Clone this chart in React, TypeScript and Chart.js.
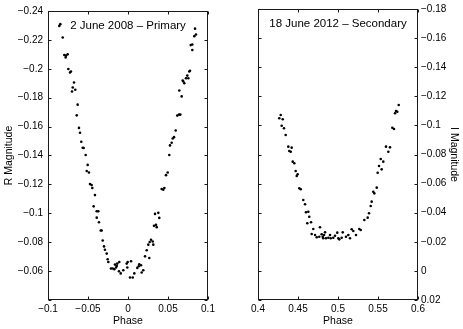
import React, { useEffect, useRef } from "react";
import { Chart, registerables } from "chart.js";

Chart.register(...registerables);

// ---- Data: 2 June 2008, primary eclipse (R band) ----
const primaryPhase = [
  -0.0859, -0.0846, -0.0816, -0.0796, -0.0775, -0.0754, -0.0779, -0.0746, -0.0725, -0.0713,
  -0.0675, -0.0691, -0.0659, -0.07, -0.0629, -0.0641, -0.0613, -0.06, -0.0584, -0.0566,
  -0.0554, -0.0529, -0.0504, -0.0516, -0.0488, -0.0475, -0.0454, -0.0446, -0.0413, -0.0429,
  -0.0391, -0.0371, -0.0391, -0.0363, -0.0341, -0.0329, -0.0316, -0.03, -0.0288, -0.0266,
  -0.0254, -0.0246, -0.0213, -0.0191, -0.0171, -0.0163, -0.0141, -0.015, -0.0134, -0.0109,
  -0.0113, -0.0091, -0.0059, -0.0016, -0.0009, -0.0004, 0.0038, 0.0025, 0.0059, 0.0079,
  0.0116, 0.0134, 0.0141, 0.0163, 0.0171, 0.0191, 0.0213, 0.0266, 0.0234, 0.0254,
  0.0271, 0.0288, 0.0309, 0.0316, 0.0325, 0.0359, 0.035, 0.0338, 0.0379, 0.0391,
  0.0421, 0.0441, 0.0454, 0.0475, 0.0496, 0.0516, 0.0525, 0.0546, 0.0559, 0.0575,
  0.0596, 0.0616, 0.0638, 0.0654, 0.0671, 0.0641, 0.0691, 0.0684, 0.0704, 0.0725,
  0.0741, 0.0754, 0.0766, 0.0775, 0.0784, 0.0804, 0.0804, 0.0829, 0.085, 0.0838,
];
const primaryMag = [
  -0.2297, -0.2309, -0.2217, -0.2096, -0.2091, -0.21, -0.2079, -0.1999, -0.1974, -0.1981,
  -0.1905, -0.1871, -0.1855, -0.1843, -0.1752, -0.1678, -0.1591, -0.1557, -0.1495, -0.1454,
  -0.1452, -0.1403, -0.1335, -0.1293, -0.1282, -0.1202, -0.1195, -0.1175, -0.1126, -0.1048,
  -0.1014, -0.1014, -0.097, -0.0938, -0.0881, -0.0881, -0.0812, -0.0771, -0.0748, -0.0721,
  -0.0682, -0.0663, -0.0618, -0.0618, -0.0613, -0.0645, -0.0636, -0.0625, -0.0652, -0.0663,
  -0.0599, -0.0584, -0.0606, -0.0652, -0.0625, -0.0663, -0.0668, -0.0556, -0.0556, -0.0584,
  -0.0622, -0.0634, -0.0647, -0.0641, -0.059, -0.0606, -0.0702, -0.0691, -0.0744, -0.0783,
  -0.0801, -0.0817, -0.0805, -0.0783, -0.0913, -0.0904, -0.092, -0.0996, -0.1003, -0.0968,
  -0.1168, -0.1163, -0.1175, -0.1264, -0.1282, -0.1403, -0.147, -0.1488, -0.1518, -0.1527,
  -0.1573, -0.1676, -0.1683, -0.1683, -0.1809, -0.185, -0.1912, -0.1919, -0.19, -0.1935,
  -0.1953, -0.1935, -0.1981, -0.1986, -0.2164, -0.213, -0.2168, -0.2226, -0.2237, -0.2278,
];

// ---- Data: 18 June 2012, secondary eclipse (I band) ----
const secondaryPhase = [
  0.4284, 0.4266, 0.4309, 0.4296, 0.4325, 0.4346, 0.4379, 0.4421, 0.4391, 0.4409,
  0.4434, 0.4454, 0.4471, 0.4496, 0.4484, 0.4516, 0.4534,
  0.4566, 0.4588, 0.46, 0.4629, 0.4641, 0.4616, 0.4663, 0.4691, 0.4671, 0.4713,
  0.4775, 0.4734, 0.4766, 0.4796, 0.4809, 0.4825, 0.4816, 0.485, 0.4838, 0.4879,
  0.49, 0.4909, 0.4941, 0.4963, 0.4991, 0.5004, 0.5016, 0.5046, 0.5059, 0.51,
  0.5129, 0.515, 0.5171, 0.5191, 0.5225, 0.5266, 0.5284,
  0.5329, 0.5371, 0.5388, 0.5409, 0.5421, 0.5441, 0.5454, 0.5484, 0.5496, 0.5513,
  0.5546, 0.5534, 0.5566, 0.56, 0.565, 0.5629, 0.5679, 0.57, 0.5713, 0.5725,
  0.5741, 0.5759,
];
const secondaryMag = [
  -0.1071, -0.1049, -0.1042, -0.0998, -0.098, -0.0934, -0.0854, -0.0847, -0.0824, -0.0819,
  -0.0751, -0.074, -0.0687, -0.0664, -0.0652, -0.0568, -0.0561,
  -0.0487, -0.0458, -0.0403, -0.0407, -0.0372, -0.0327, -0.0334, -0.0288, -0.0254, -0.0247,
  -0.03, -0.0231, -0.0235, -0.0252, -0.0235, -0.0247, -0.0224, -0.0224, -0.0265, -0.0228,
  -0.0247, -0.0224, -0.0228, -0.0242, -0.0263, -0.0224, -0.0217, -0.0228, -0.0265, -0.0235,
  -0.0247, -0.0224, -0.0286, -0.0274, -0.0247, -0.0288, -0.0281,
  -0.035, -0.0366, -0.0396, -0.0446, -0.0476, -0.0544, -0.0533, -0.0572, -0.0675, -0.0721,
  -0.0698, -0.0769, -0.0751, -0.0854, -0.0849, -0.0819, -0.0984, -0.0975, -0.1083, -0.1099,
  -0.1094, -0.114,
];

// ---- Ticks and labels ----
const primaryXTicks = [-0.1, -0.05, 0, 0.05, 0.1];
const primaryYTicks = [-0.24, -0.22, -0.2, -0.18, -0.16, -0.14, -0.12, -0.1, -0.08, -0.06, -0.04];
const primaryYHiddenLabels = [-0.04];
const secondaryXTicks = [0.4, 0.45, 0.5, 0.55, 0.6];
const secondaryYTicks = [-0.18, -0.16, -0.14, -0.12, -0.1, -0.08, -0.06, -0.04, -0.02, 0, 0.02];
const secondaryYHiddenLabels: number[] = [];

const primaryTitle = "2 June 2008 \u2013 Primary";
const secondaryTitle = "18 June 2012 \u2013 Secondary";
const xAxisTitle = "Phase";
const primaryYTitle = "R Magnitude";
const secondaryYTitle = "I Magnitude";

const FONT = "'Liberation Sans', Arial, Helvetica, sans-serif";

const fmt = (v: number) => String(Number(v.toFixed(3))).replace("-", "\u2212");

const framePlugin = {
  id: "matlabFrame",
  afterDraw(chart: any, _args: any, opts: any) {
    const { ctx, chartArea: a, scales } = chart;
    const L = Math.round(a.left) + 0.5;
    const R = Math.round(a.right) - 0.5;
    const T = Math.round(a.top) + 0.5;
    const B = Math.round(a.bottom) - 0.5;
    ctx.save();
    ctx.strokeStyle = "#1a1a1a";
    ctx.lineWidth = 1;
    ctx.strokeRect(L, T, R - L, B - T);
    const len = 3;
    ctx.beginPath();
    scales.x.ticks.forEach((t: any) => {
      const px = Math.round(scales.x.getPixelForValue(t.value)) + 0.5;
      ctx.moveTo(px, B);
      ctx.lineTo(px, B - len);
      ctx.moveTo(px, T);
      ctx.lineTo(px, T + len);
    });
    scales.y.ticks.forEach((t: any) => {
      const py = Math.round(scales.y.getPixelForValue(t.value)) + 0.5;
      ctx.moveTo(L, py);
      ctx.lineTo(L + len, py);
      ctx.moveTo(R, py);
      ctx.lineTo(R - len, py);
    });
    ctx.stroke();
    ctx.fillStyle = "#000";
    ctx.font = `11.5px ${FONT}`;
    ctx.textAlign = "center";
    ctx.textBaseline = "middle";
    ctx.fillText(opts.text, (a.left + a.right) / 2, a.top + 15);
    ctx.restore();
  },
};

type PanelProps = {
  phase: number[];
  mag: number[];
  xTicks: number[];
  yTicks: number[];
  hidden: number[];
  yPos: "left" | "right";
  yTitle: string;
  panelText: string;
  width: number;
  left: number;
  padLeft: number;
  padRight: number;
  yWidth: number;
  yTickPad: number;
};

function Panel(p: PanelProps) {
  const ref = useRef<HTMLCanvasElement | null>(null);
  useEffect(() => {
    if (!ref.current) return;
    const points = p.phase.map((x, i) => ({ x, y: p.mag[i] }));
    const chart = new Chart(ref.current, {
      type: "scatter",
      data: {
        datasets: [
          {
            data: points,
            backgroundColor: "#000",
            borderWidth: 0,
            pointRadius: 1.3,
            pointHoverRadius: 1.3,
          },
        ],
      },
      options: {
        animation: false,
        responsive: false,
        events: [],
        layout: { padding: { top: 9, left: p.padLeft, right: p.padRight, bottom: 0 } },
        plugins: {
          legend: { display: false },
          tooltip: { enabled: false },
          matlabFrame: { text: p.panelText },
        } as any,
        scales: {
          x: {
            type: "linear",
            min: p.xTicks[0],
            max: p.xTicks[p.xTicks.length - 1],
            afterBuildTicks: (s: any) => {
              s.ticks = p.xTicks.map((v) => ({ value: v }));
            },
            afterFit: (s: any) => {
              s.height = 29;
            },
            grid: { display: false, drawTicks: false },
            border: { display: false },
            ticks: {
              autoSkip: false,
              maxRotation: 0,
              minRotation: 0,
              padding: 3,
              color: "#000",
              font: { size: 10, family: FONT },
              callback: (v: any) => fmt(Number(v)),
            },
            title: {
              display: true,
              text: xAxisTitle,
              color: "#000",
              font: { size: 10.5, family: FONT },
              padding: { top: 0, bottom: 2 },
            },
          },
          y: {
            type: "linear",
            position: p.yPos,
            reverse: true,
            min: p.yTicks[0],
            max: p.yTicks[p.yTicks.length - 1],
            afterBuildTicks: (s: any) => {
              s.ticks = p.yTicks.map((v) => ({ value: v }));
            },
            afterFit: (s: any) => {
              s.width = p.yWidth;
            },
            grid: { display: false, drawTicks: false },
            border: { display: false },
            ticks: {
              autoSkip: false,
              padding: p.yTickPad,
              color: "#000",
              font: { size: 10, family: FONT },
              callback: (v: any) => {
                const n = Number(v);
                return p.hidden.some((h) => Math.abs(h - n) < 1e-9) ? "" : fmt(n);
              },
            },
            title: {
              display: true,
              text: p.yTitle,
              color: "#000",
              font: { size: 10.5, family: FONT },
              padding: { top: 3, bottom: 0 },
            },
          },
        },
      },
      plugins: [framePlugin as any],
    });
    return () => chart.destroy();
  }, []);
  return (
    <canvas
      ref={ref}
      width={p.width}
      height={329}
      style={{ position: "absolute", left: p.left, top: 0, width: p.width, height: 329 }}
    />
  );
}

export default function App() {
  return (
    <div
      style={{
        position: "fixed",
        left: 0,
        top: 0,
        width: 463,
        height: 329,
        background: "#fff",
        overflow: "hidden",
      }}
    >
      <Panel
        phase={primaryPhase}
        mag={primaryMag}
        xTicks={primaryXTicks}
        yTicks={primaryYTicks}
        hidden={primaryYHiddenLabels}
        yPos="left"
        yTitle={primaryYTitle}
        panelText={primaryTitle}
        width={232}
        left={0}
        padLeft={0}
        padRight={24}
        yWidth={48}
        yTickPad={5}
      />
      <Panel
        phase={secondaryPhase}
        mag={secondaryMag}
        xTicks={secondaryXTicks}
        yTicks={secondaryYTicks}
        hidden={secondaryYHiddenLabels}
        yPos="right"
        yTitle={secondaryYTitle}
        panelText={secondaryTitle}
        width={231}
        left={232}
        padLeft={26}
        padRight={0}
        yWidth={45}
        yTickPad={3}
      />
    </div>
  );
}
